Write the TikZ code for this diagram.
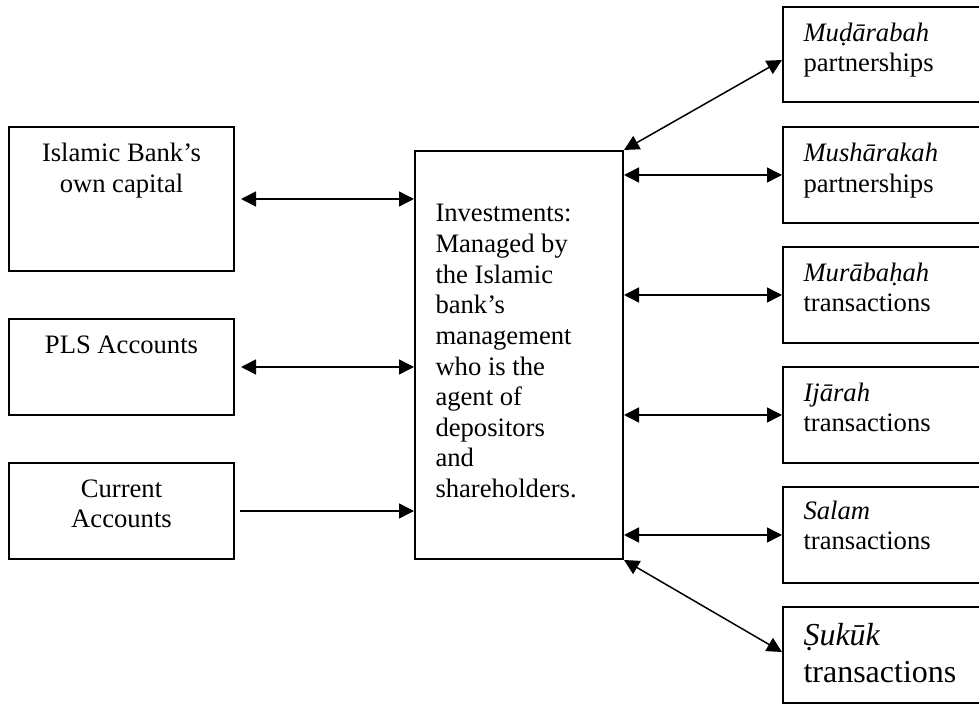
\documentclass[tikz,border=0pt]{standalone}
\usepackage{fontspec}
\setmainfont{Liberation Serif}
\usetikzlibrary{arrows.meta}

\begin{document}
\begin{tikzpicture}[x=0.4pt,y=-0.4pt,
 srcbox/.style={draw,line width=0.8pt,inner sep=0pt,minimum width=90pt},
 investbox/.style={draw,line width=0.8pt,inner sep=0pt,minimum width=83.2pt,minimum height=163.2pt},
 usebox/.style={draw,line width=0.8pt,inner sep=0pt,minimum width=79.6pt,minimum height=38.4pt},
 srctext/.style={inner sep=0pt,align=center,anchor=base,font=\fontsize{10.65}{12.25}\selectfont},
 usetext/.style={inner sep=0pt,align=left,anchor=base west,font=\fontsize{10.65}{12.25}\selectfont},
 flowarrow/.style={-{Triangle[length=6pt,width=6pt]},line width=0.6pt},
 botharrow/.style={{Triangle[length=6pt,width=6pt]}-{Triangle[length=6pt,width=6pt]},line width=0.6pt}
]
\useasboundingbox (0,0) rectangle (979,704);
\clip (0,0) rectangle (979,704);
% sources of funds (base = last line)
\node[srcbox,minimum height=57.6pt] (capital) at (121.5,199) {};
\node[srcbox,minimum height=38.4pt] (pls) at (121.5,367) {};
\node[srcbox,minimum height=38.4pt] (current) at (121.5,511) {};
\node[srctext] (capital-t) at ([shift={(0,66.6)}]capital.north) {Islamic Bank’s\\own capital};
\node[srctext] (pls-t) at ([shift={(0,36)}]pls.north) {PLS Accounts};
\node[srctext] (current-t) at ([shift={(0,66)}]current.north) {Current\\Accounts};
% investment pool
\node[investbox] (invest) at (519,355) {};
\node[usetext] (invest-t) at ([shift={(21,347.6)}]invest.north west)
  {Investments:\\Managed by\\the Islamic\\bank’s\\management\\who is the\\agent of\\depositors\\and\\shareholders.};
% uses of funds
\node[usebox,minimum height=38pt] (muda) at (882.5,54.5) {};
\node[usebox] (musha) at (882.5,175) {};
\node[usebox] (mura) at (882.5,295) {};
\node[usebox] (ijarah) at (882.5,415) {};
\node[usebox] (salam) at (882.5,535) {};
\node[usebox] (sukuk) at (882.5,655) {};
\node[usetext] (muda-t) at ([shift={(21,66)}]muda.north west) {\textit{Muḍārabah}\\partnerships};
\node[usetext] (musha-t) at ([shift={(21,66.6)}]musha.north west) {\textit{Mushārakah}\\partnerships};
\node[usetext] (mura-t) at ([shift={(21,66)}]mura.north west) {\textit{Murābaḥah}\\transactions};
\node[usetext] (ijarah-t) at ([shift={(21,66)}]ijarah.north west) {\textit{Ijārah}\\transactions};
\node[usetext] (salam-t) at ([shift={(21,64)}]salam.north west) {\textit{Salam}\\transactions};
\node[usetext,font=\fontsize{12.8}{14.4}\selectfont] (sukuk-t) at ([shift={(21,76)}]sukuk.north west) {\textit{Ṣukūk}\\transactions};
% connectors
\draw[botharrow,shorten <=2.4pt] (capital.east) -- (capital.east -| invest.west);
\draw[botharrow,shorten <=2.4pt] (pls.east) -- (pls.east -| invest.west);
\draw[flowarrow,shorten <=2pt] (current.east) -- (current.east -| invest.west);
\draw[botharrow] (invest.north east) -- (muda.west |- 0,60);
\draw[botharrow] (musha.west -| invest.east) -- (musha.west);
\draw[botharrow] (mura.west -| invest.east) -- (mura.west);
\draw[botharrow] (ijarah.west -| invest.east) -- (ijarah.west);
\draw[botharrow] (salam.west -| invest.east) -- (salam.west);
\draw[botharrow] (invest.south east) -- (sukuk.west |- 0,652);
\end{tikzpicture}
\end{document}
